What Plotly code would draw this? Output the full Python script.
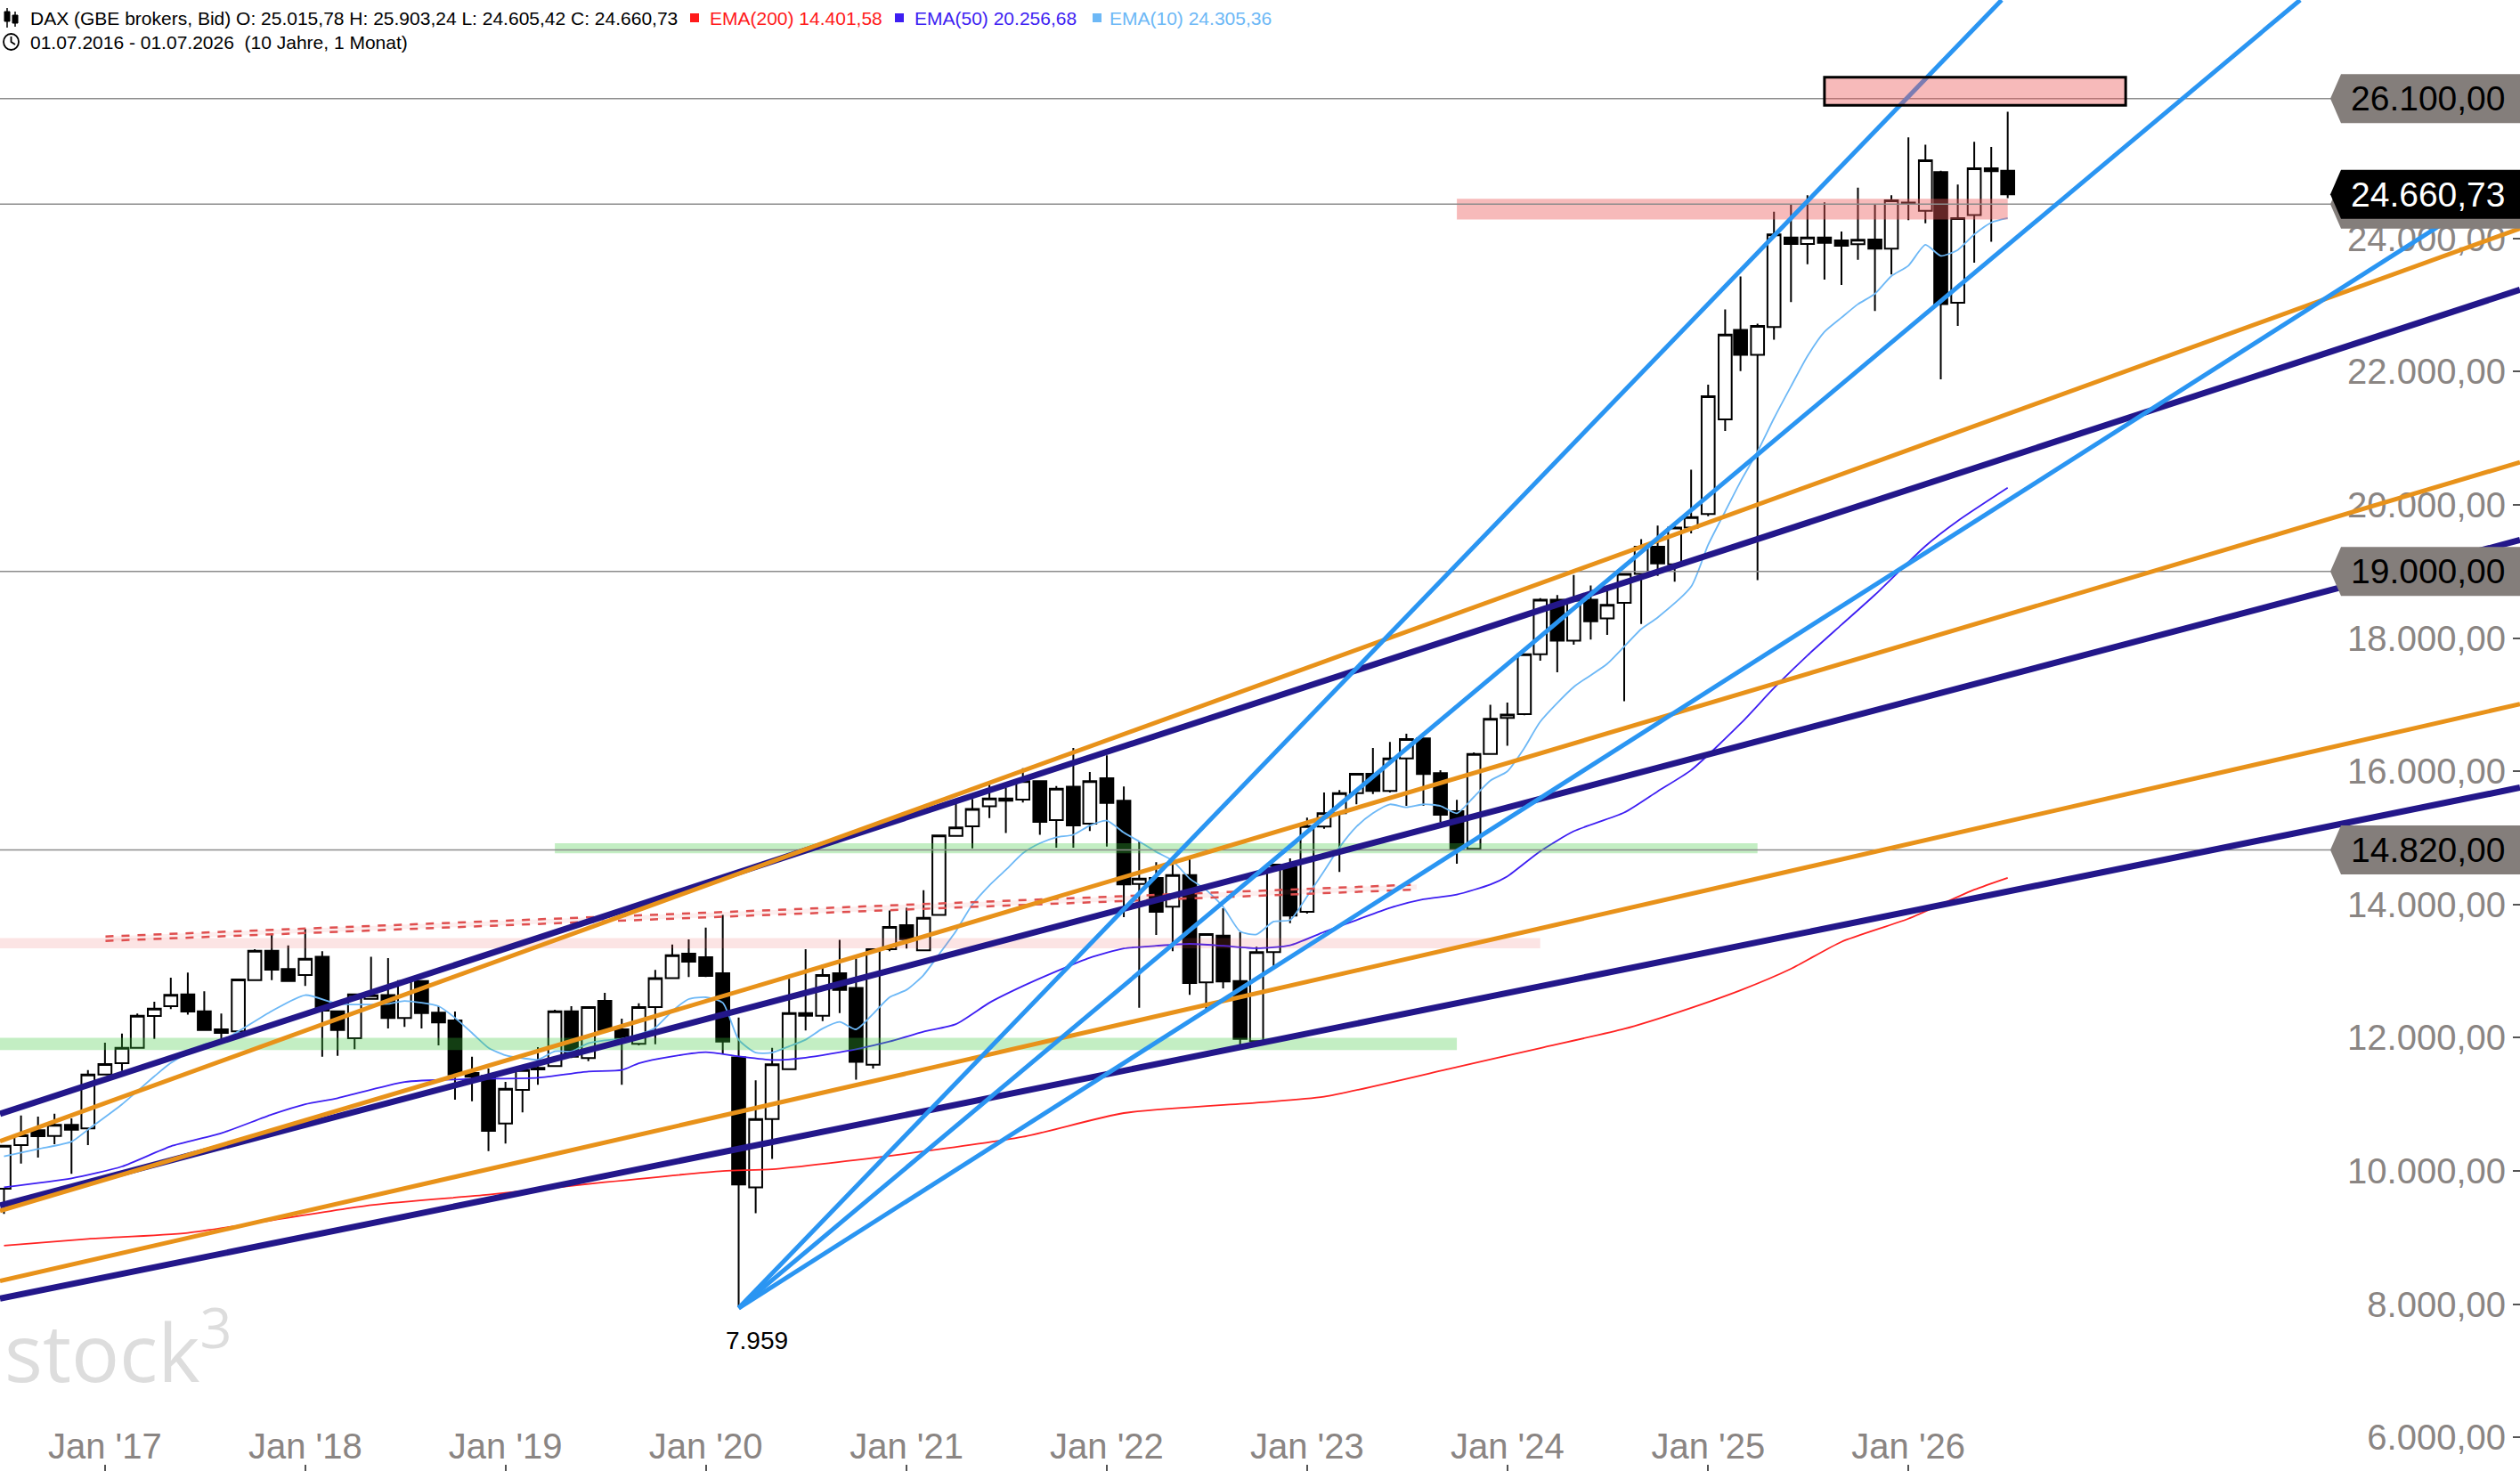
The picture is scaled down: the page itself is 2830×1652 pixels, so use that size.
import plotly.graph_objects as go
import pandas as pd

# ---------------- data ----------------
months = pd.date_range("2016-07-01", periods=121, freq="MS")

opens = [9733, 10388, 10611, 10526, 10691, 10637, 11448, 11618, 11849, 12326, 12473, 12651, 12398, 12126, 12095, 12865, 13306, 13030,
         12941, 13217, 12397, 11992, 12585, 12642, 12295, 12852, 12375, 12259, 11470, 11426,
         10713, 11216, 11546, 11573, 12397, 11694, 12553, 12126, 11907, 12460, 12896, 13262,
         13208, 12969, 11705, 9754, 10780, 11528, 12370, 12331, 12969, 12747, 11594, 13329,
         13689, 13312, 13845, 15031, 15175, 15474, 15591, 15574, 15851, 15269, 15768, 15214,
         15896, 15557, 14309, 14399, 13966, 14443, 12830, 13534, 12852, 11948, 13285, 14559,
         13891, 15170, 15370, 15673, 15963, 15704, 16194, 16493, 15972, 15401, 14835, 16261,
         16800, 16860, 17758, 18576, 17961, 18576, 18297, 18530, 18964, 19370, 19109, 19660,
         19863, 21283, 22628, 22251, 22670, 24015, 23917, 24015, 23971, 23913, 23984, 23846,
         24540, 24416, 24996, 23035, 24350, 25054, 25016]
highs = [10390, 10833, 10816, 10860, 10789, 11515, 11925, 12063, 12362, 12540, 12901, 12977, 12696, 12362, 12880, 13330, 13565, 13387,
         13632, 13298, 12410, 12660, 13217, 13195, 12860, 12860, 12473, 12393, 11716, 11537,
         11337, 11520, 11858, 12420, 12473, 12465, 12674, 12286, 12518, 13017, 13400, 13476,
         13654, 13845, 12304, 11361, 11850, 12886, 13329, 13100, 13468, 13190, 13340, 13911,
         13949, 14216, 15045, 15530, 15585, 15807, 15751, 16045, 15860, 15779, 16350, 15990,
         16239, 15771, 14947, 14635, 14635, 14679, 13560, 13944, 13588, 13365, 14600, 14693,
         15303, 15682, 15718, 15965, 16350, 16439, 16564, 16506, 16016, 15570, 16283, 17000,
         17033, 17760, 18600, 18645, 18947, 18791, 18703, 18964, 19486, 19689, 19689, 20529,
         21805, 22935, 23428, 22720, 24403, 24506, 24648, 24541, 24104, 24764, 24506, 24648,
         25517, 25406, 25018, 24808, 25450, 25374, 25903]
lows = [9354, 10112, 10200, 10401, 9956, 10388, 11440, 11502, 11845, 11983, 12429, 12348, 12110, 11983, 12080, 12860, 12865, 12843,
        12776, 11716, 11729, 11827, 12580, 12139, 12161, 12139, 11885, 11070, 11047, 10299,
        10410, 10878, 11292, 11573, 11694, 11649, 12110, 11292, 11885, 11903, 12890, 12910,
        12910, 11760, 7959, 9366, 10180, 11528, 12110, 12250, 12370, 11372, 11539, 13300,
        13340, 13300, 13840, 15020, 14842, 15297, 15075, 15530, 15047, 14853, 14853, 15103,
        14871, 13811, 12451, 13543, 13298, 12643, 12407, 12741, 11894, 11940, 13053, 13721,
        13864, 15138, 14488, 15504, 15660, 15682, 15481, 15481, 15236, 14612, 14830, 16250,
        16385, 16840, 17660, 17486, 17900, 17978, 18048, 17051, 18211, 18935, 18848, 19573,
        19830, 21109, 22008, 18870, 22480, 23044, 23614, 23383, 23302, 23681, 22910, 23458,
        24274, 24229, 21885, 22687, 23637, 23949, 24605]
closes = [10379, 10535, 10522, 10691, 10620, 11448, 11604, 11849, 12331, 12438, 12643, 12393, 12117, 12072, 12874, 13306, 13021, 12850,
          13186, 12406, 12117, 12651, 12638, 12295, 12852, 12371, 12228, 11448, 11413, 10602,
          11234, 11515, 11524, 12397, 11716, 12460, 12117, 11983, 12460, 12896, 13240, 13142,
          12928, 11943, 9798, 10779, 11600, 12370, 12331, 12941, 12719, 11638, 13329, 13662,
          13479, 13800, 15036, 15158, 15435, 15591, 15557, 15851, 15241, 15740, 15186, 15851,
          15526, 14301, 14390, 13891, 14443, 12821, 13556, 12843, 11983, 13285, 14599, 13833,
          15178, 15370, 15673, 15963, 15704, 16194, 16484, 15958, 15348, 14835, 16261, 16787,
          16850, 17758, 18576, 17961, 18576, 18251, 18500, 18964, 19370, 19121, 19660, 19817,
          21631, 22558, 22251, 22688, 24060, 23917, 24015, 23935, 23891, 23980, 23846, 24572,
          24520, 25174, 23013, 24305, 25054, 25009, 24661]

# indicator readings: (month index, value)
ema10_idx = [0, 2, 4, 5, 7, 9, 10, 12, 13, 14, 16, 18, 20, 23, 24, 26, 27, 28, 29, 30, 31, 32, 33, 34, 35, 36, 37, 38, 39, 40,
             41, 42, 43, 44, 45, 46, 47, 48, 49, 50, 51, 52, 53, 54, 55, 56, 57, 58, 59, 60, 61, 62, 63, 64, 65, 66, 67, 68, 69, 70,
             71, 72, 73, 74, 75, 76, 77, 78, 79, 80, 81, 82, 83, 84, 85, 86, 87, 88, 89, 90, 91, 92, 94, 96, 98, 99, 101, 102, 103,
             104, 105, 106, 107, 108, 109, 110, 111, 112, 113, 114, 115, 116, 117, 118, 119, 120]
ema10_val = [10220, 10330, 10440, 10620, 11000, 11420, 11620, 11900, 11950, 12094, 12400, 12640, 12509, 12509, 12553, 12473, 12298,
             12072, 11849, 11737, 11693, 11671, 11796, 11796, 11916, 11961, 11983, 12050, 12150, 12400,
             12580, 12607, 12525, 11971, 11777, 11777, 11871, 11971, 12137, 12237, 12126, 12359, 12608, 12719, 12941, 13250, 13600,
             14000, 14288, 14521, 14770, 14920, 15009, 15047, 15186, 15259, 15080, 14947, 14791, 14657,
             14390, 14220, 13966, 13596, 13552, 13744, 13766, 14122, 14501, 14858, 15169, 15370, 15504, 15460, 15505, 15480, 15370,
             15615, 15860, 16000, 16350, 16744, 17266, 17613, 18135, 18309, 18772, 19400, 19900,
             20350, 20800, 21300, 21780, 22233, 22598, 22812, 23013, 23169, 23436, 23592, 23904, 23739, 23828, 24060, 24238, 24305]
ema50_idx = [0, 4, 7, 10, 13, 16, 18, 20, 24, 28, 32, 35, 37, 38, 40, 42, 44, 46, 48, 51, 53, 55, 57, 59, 61, 63, 65, 67, 69, 71,
             73, 75, 77, 79, 81, 83, 85, 87, 89, 90, 92, 94, 97, 99, 101, 104, 106, 108, 110, 112, 115, 117, 120]
ema50_val = [9755, 9888, 10067, 10370, 10566, 10847, 11002, 11092, 11336, 11381, 11400, 11493, 11515, 11617, 11720, 11782, 11720,
             11666, 11700, 11827, 11943, 12090, 12204, 12525, 12775, 12996, 13200, 13340, 13380, 13409,
             13380, 13343, 13387, 13588, 13766, 13950, 14078, 14150, 14300, 14422, 14800, 15100, 15381, 15700, 16018, 16715, 17250,
             17740, 18200, 18650, 19382, 19759, 20256]
ema200_idx = [0, 5, 11, 22, 29, 36, 43, 46, 53, 61, 67, 75, 79, 87, 92, 97, 100, 104, 107, 110, 114, 118, 120]
ema200_val = [8880, 8980, 9070, 9487, 9643, 9830, 9999, 10026, 10227, 10512, 10869, 11025, 11114, 11560, 11845, 12134, 12366,
              12713, 13035, 13440, 13787, 14222, 14401]

x_ticks = ["2017-01-01", "2018-01-01", "2019-01-01", "2020-01-01", "2021-01-01", "2022-01-01", "2023-01-01", "2024-01-01",
           "2025-01-01", "2026-01-01"]
x_ticktext = ["Jan '17", "Jan '18", "Jan '19", "Jan '20", "Jan '21", "Jan '22", "Jan '23", "Jan '24", "Jan '25", "Jan '26"]
y_ticks = [6000, 8000, 10000, 12000, 14000, 16000, 18000, 20000, 22000, 24000]
y_ticktext = ["6.000,00", "8.000,00", "10.000,00", "12.000,00", "14.000,00", "16.000,00", "18.000,00", "20.000,00",
              "22.000,00", "24.000,00"]

X_RANGE = ["2016-06-23 17:00", "2029-01-19 17:00"]
Y_RANGE = [5495, 27580]

# trend lines: (x0, y0, x1, y1, kind)
LEFT, RIGHT = X_RANGE
trend_lines = [
    (LEFT, 10857, RIGHT, 23230, "navy"),
    (LEFT, 10446, RIGHT, 24150, "orange"),
    (LEFT, 9481, RIGHT, 19472, "navy"),
    (LEFT, 9400, RIGHT, 20640, "orange"),
    (LEFT, 8083, RIGHT, 15755, "navy"),
    (LEFT, 8347, RIGHT, 17010, "orange"),
    ("2020-03-01", 7940, "2026-06-20", 27580, "blue"),
    ("2020-03-01", 7940, "2027-12-16", 27580, "blue"),
    ("2020-03-01", 7940, RIGHT, 24960, "blue"),
]
# zones: (x0, x1, y0, y1, kind)
zones = [
    (LEFT, "2023-10-01", 11814, 12000, "green"),
    ("2019-04-01", "2025-04-01", 14770, 14920, "green"),
    (LEFT, "2024-03-01", 13342, 13495, "lightpink"),
    ("2023-10-01", "2026-07-01", 24283, 24595, "pink"),
]
resist_box = ("2025-08-01", "2027-02-01", 26000, 26420)
dashed_upper = ("2017-01-02", 13520, "2023-07-20", 14300)
dashed_lower = ("2017-01-02", 13454, "2023-07-20", 14225)
h_levels = [26100, 24515, 19000, 14820]
level_labels = [(26100, "26.100,00"), (19000, "19.000,00"), (14820, "14.820,00")]
last_close = 24660.73
last_label = "24.660,73"
hidden_label_level = 24515
low_point = ("2020-03-01", 7959, "7.959")

COL = {"navy": "#23178a", "orange": "#e8921a", "blue": "#2a95f2",
       "green": "rgba(60,200,60,0.31)", "pink": "rgba(235,90,90,0.42)", "lightpink": "rgba(235,90,90,0.16)"}
W = {"navy": 7, "orange": 5, "blue": 5}
FONT = "Liberation Sans"
GREY_TXT = "#8a8583"
BOX_GREY = "#847e7b"
FW, FH = 2830, 1652

def px(x):
    return x / FW

def py(y):
    return 1 - y / FH

fig = go.Figure()

fig.add_trace(go.Candlestick(
    x=months, open=opens, high=highs, low=lows, close=closes,
    increasing=dict(line=dict(color="black", width=2), fillcolor="white"),
    decreasing=dict(line=dict(color="black", width=2), fillcolor="black"),
    whiskerwidth=0, showlegend=False, hoverinfo="skip"))

for idx, val, color, w in [(ema200_idx, ema200_val, "#ff2222", 1.8),
                           (ema50_idx, ema50_val, "#3d1ef2", 1.8),
                           (ema10_idx, ema10_val, "#6db8f6", 1.8)]:
    fig.add_trace(go.Scatter(x=[months[i] for i in idx], y=val, mode="lines",
                             line=dict(color=color, width=w, shape="spline", smoothing=0.6),
                             showlegend=False, hoverinfo="skip"))

shapes = []
# zones
for x0, x1, y0, y1, kind in zones:
    shapes.append(dict(type="rect", xref="x", yref="y", x0=x0, x1=x1, y0=y0, y1=y1,
                       fillcolor=COL[kind], line=dict(width=0), layer="above"))
# dashed channel
du, dl = dashed_upper, dashed_lower
shapes.append(dict(type="path", xref="x", yref="y", layer="above",
                   path=f"M {du[0]},{du[1]} L {du[2]},{du[3]} L {dl[2]},{dl[3]} L {dl[0]},{dl[1]} Z",
                   fillcolor="rgba(235,90,90,0.10)", line=dict(width=0)))
for d in (dashed_upper, dashed_lower):
    shapes.append(dict(type="line", xref="x", yref="y", x0=d[0], y0=d[1], x1=d[2], y1=d[3],
                       line=dict(color="#df4f4f", width=2.5, dash="dash"), layer="above"))
# horizontal levels
for lv in h_levels:
    shapes.append(dict(type="line", xref="paper", yref="y", x0=0, x1=1, y0=lv, y1=lv,
                       line=dict(color="#8c8c8c", width=1.5), layer="above"))
# trend lines
for x0, y0, x1, y1, kind in trend_lines:
    shapes.append(dict(type="line", xref="x", yref="y", x0=x0, y0=y0, x1=x1, y1=y1,
                       line=dict(color=COL[kind], width=W[kind]), layer="above"))
# resistance box
shapes.append(dict(type="rect", xref="x", yref="y", x0=resist_box[0], x1=resist_box[1],
                   y0=resist_box[2], y1=resist_box[3], fillcolor="rgba(235,90,90,0.42)",
                   line=dict(color="black", width=3), layer="above"))

# right-hand price labels
LABEL_PATH = "M -213,0 L -201,27.5 L 10,27.5 L 10,-27.5 L -201,-27.5 Z"
def label_box(value, fill):
    return dict(type="path", xref="paper", yref="y", xsizemode="pixel", ysizemode="pixel",
                xanchor=1, yanchor=value, path=LABEL_PATH, fillcolor=fill,
                line=dict(width=0), layer="above")
for lv, _ in level_labels:
    shapes.append(label_box(lv, BOX_GREY))
shapes.append(label_box(hidden_label_level, BOX_GREY))
shapes.append(label_box(last_close, "black"))

# header icons (decoration)
for cx, top, b0, b1, bot in [(8, 9, 13, 24, 31), (17, 13, 17, 26, 30)]:
    shapes.append(dict(type="line", xref="paper", yref="paper", x0=px(cx), x1=px(cx), y0=py(top), y1=py(bot),
                       line=dict(color="black", width=1.5)))
    shapes.append(dict(type="rect", xref="paper", yref="paper", x0=px(cx - 3), x1=px(cx + 3), y0=py(b0), y1=py(b1),
                       fillcolor="black", line=dict(color="black", width=1)))
shapes.append(dict(type="circle", xref="paper", yref="paper", x0=px(4), x1=px(21), y0=py(38), y1=py(56),
                   line=dict(color="black", width=1.8)))
shapes.append(dict(type="path", xref="paper", yref="paper",
                   path=f"M {px(12.5)},{py(41)} L {px(12.5)},{py(47)} L {px(17)},{py(50)}",
                   line=dict(color="black", width=1.8)))
for x0, color in [(775, "#ff1a1a"), (1005, "#3d1ef2"), (1227, "#6db8f6")]:
    shapes.append(dict(type="rect", xref="paper", yref="paper", x0=px(x0), x1=px(x0 + 10), y0=py(15), y1=py(25),
                       fillcolor=color, line=dict(width=0)))

annotations = []
def head(x, y, text, color="black", size=21):
    annotations.append(dict(xref="paper", yref="paper", x=px(x), y=py(y), xanchor="left", yanchor="middle",
                            text=text, showarrow=False, font=dict(family=FONT, size=size, color=color)))
head(32, 20, "DAX (GBE brokers, Bid) O: 25.015,78 H: 25.903,24 L: 24.605,42 C: 24.660,73")
head(795, 20, "EMA(200) 14.401,58", "#ff1a1a")
head(1025, 20, "EMA(50) 20.256,68", "#3d1ef2")
head(1244, 20, "EMA(10) 24.305,36", "#6db8f6")
head(32, 47, "01.07.2016 - 01.07.2026  (10 Jahre, 1 Monat)")

for lv, txt in level_labels:
    annotations.append(dict(xref="paper", yref="y", x=1, y=lv, xanchor="right", yanchor="middle", xshift=-14,
                            text=txt, showarrow=False, font=dict(family=FONT, size=39, color="black")))
annotations.append(dict(xref="paper", yref="y", x=1, y=last_close, xanchor="right", yanchor="middle", xshift=-14,
                        text=last_label, showarrow=False, font=dict(family=FONT, size=39, color="white")))
annotations.append(dict(xref="x", yref="y", x=low_point[0], y=low_point[1], xanchor="center", yanchor="top",
                        xshift=20, yshift=-20, text=low_point[2], showarrow=False,
                        font=dict(family=FONT, size=28, color="black")))
annotations.append(dict(xref="paper", yref="paper", x=px(3), y=py(1512), xanchor="left", yanchor="middle",
                        text="stock<sup>3</sup>", showarrow=False,
                        font=dict(family="Open Sans", size=90, color="#dddddd")))

fig.update_layout(
    width=FW, height=FH, margin=dict(l=0, r=0, t=0, b=0, pad=0),
    paper_bgcolor="white", plot_bgcolor="white", showlegend=False, hovermode=False,
    boxgap=0.15, boxgroupgap=0,
    shapes=shapes, annotations=annotations,
)
# x axis line placed at the bottom edge, labels drawn above it
fig.update_xaxes(type="date", range=X_RANGE, rangeslider_visible=False, showgrid=False, zeroline=False,
                 anchor="free", position=0, side="top",
                 tickvals=x_ticks, ticktext=x_ticktext, ticks="outside",
                 ticklen=7, tickwidth=2, tickcolor="#555555", ticklabelstandoff=-9,
                 tickfont=dict(family=FONT, size=40, color=GREY_TXT), showline=False)
fig.update_yaxes(side="right", range=Y_RANGE, showgrid=False, zeroline=False,
                 tickvals=y_ticks, ticktext=y_ticktext, ticklabelposition="inside", ticks="inside",
                 ticklen=8, tickwidth=2, tickcolor="#555555", ticklabelstandoff=13,
                 tickfont=dict(family=FONT, size=40, color=GREY_TXT),
                 showline=True, linecolor="#5a5a5a", linewidth=6)

fig.write_html("out.html")
